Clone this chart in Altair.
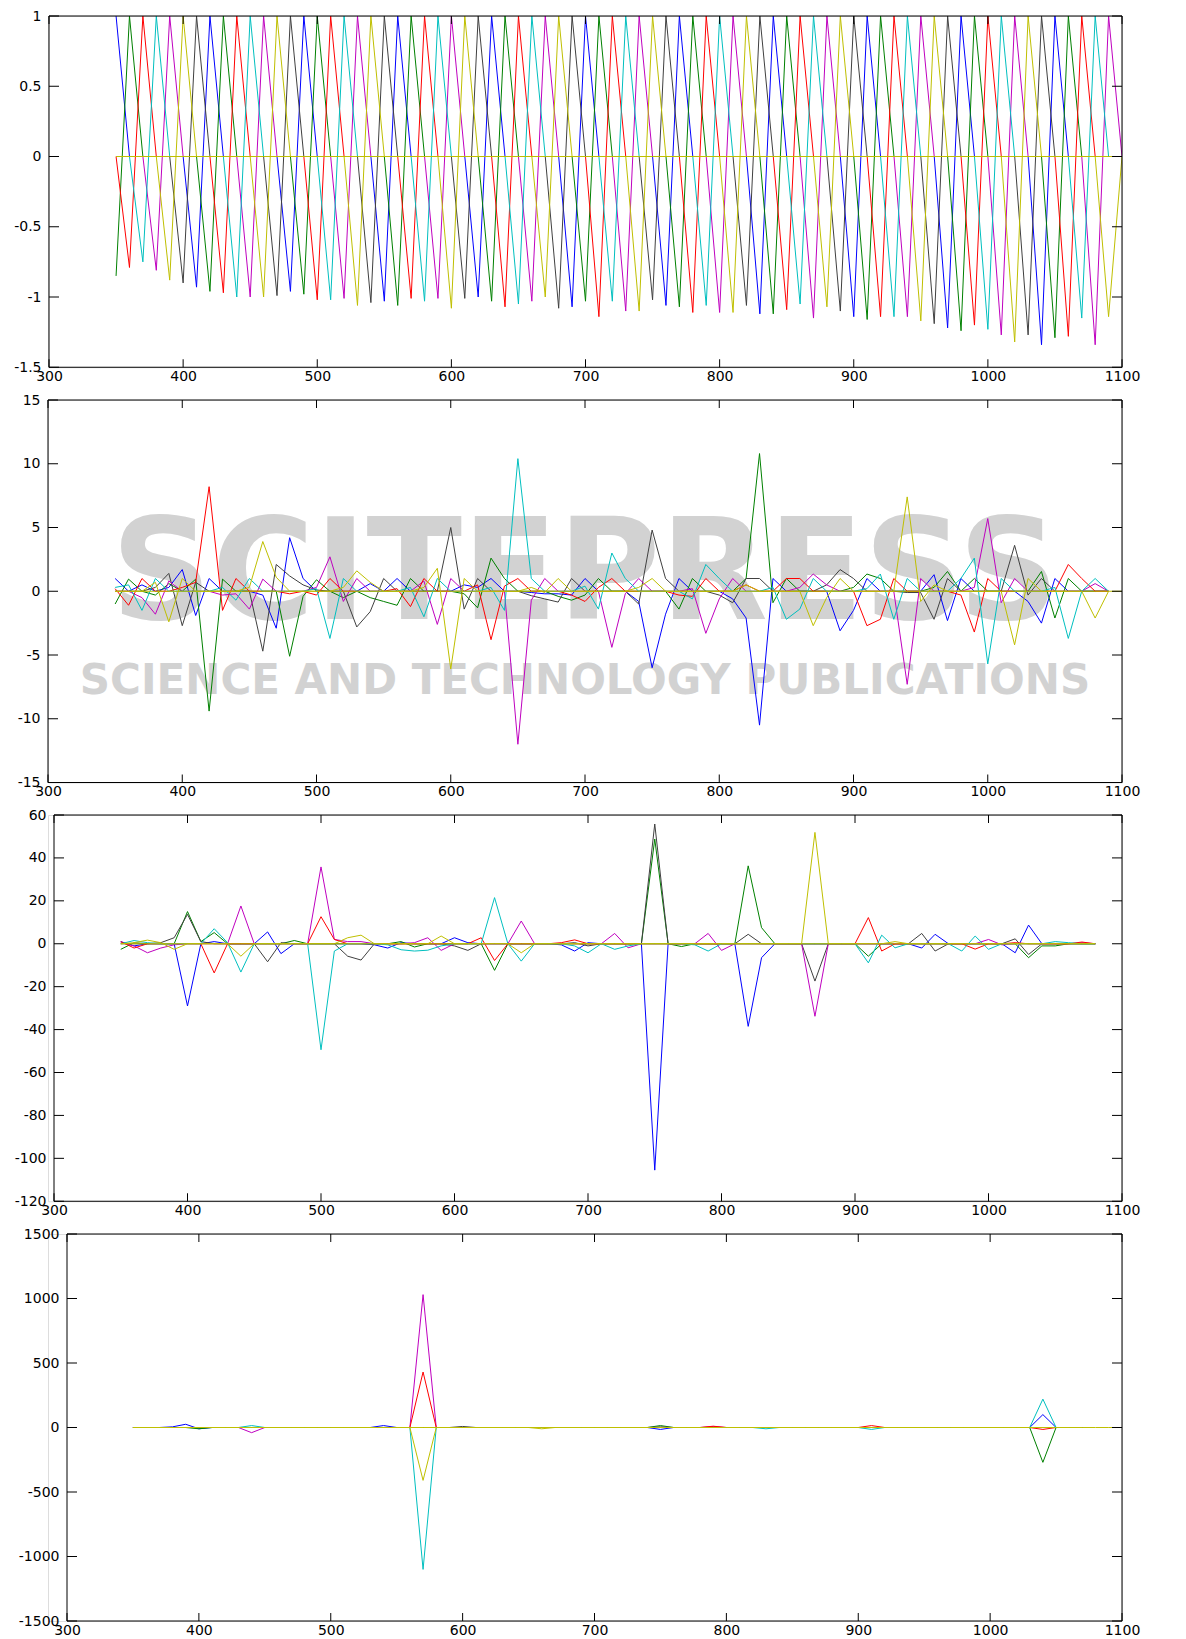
import altair as alt
import pandas as pd

FONT = "DejaVu Sans"

# ---------------- shared axis values ----------------
X_TICKS = [300, 400, 500, 600, 700, 800, 900, 1000, 1100]
X_DOMAIN = [300, 1100]
GRID_START = 350
GRID_STEP = 10

# MATLAB colour cycle names and colours
COLOR_NAMES = ["b", "g", "r", "c", "m", "y", "k"]
COLOR_HEX = {"b": "#0000FF", "g": "#008000", "r": "#FF0000", "c": "#00BFBF",
             "m": "#BF00BF", "y": "#BFBF00", "k": "#404040"}
DRAW_ORDER = ["b", "g", "k", "m", "r", "c", "y"]

# ---------------- panel 1 ----------------
P1_Y_DOMAIN = [-1.5, 1]
P1_Y_TICKS = [-1.5, -1, -0.5, 0, 0.5, 1]
# minimum of each V, at x = 350, 360, ..., 1090
P1_MIN = [-0.85, -0.79, -0.75, -0.81, -0.88, -0.90, -0.93, -0.96, -0.97, -1.00,
          -1.00, -1.00, -0.99, -0.96, -0.98, -1.02, -1.02, -1.01, -1.06, -1.04,
          -1.03, -1.06, -1.01, -1.03, -1.01, -1.08, -1.01, -1.00, -1.03, -1.07,
          -1.05, -1.03, -1.00, -1.08, -1.07, -1.03, -1.14, -1.03, -1.10, -1.10,
          -1.02, -1.06, -1.07, -1.11, -1.06, -1.11, -1.11, -1.06, -1.12, -1.12,
          -1.09, -1.05, -1.15, -1.07, -1.10, -1.14, -1.16, -1.14, -1.14, -1.14,
          -1.17, -1.19, -1.22, -1.24, -1.20, -1.23, -1.27, -1.32, -1.27, -1.34,
          -1.29, -1.28, -1.15, -1.34, -1.14]
# peak of each V, at x = 350, 360, ..., 1100
P1_PEAK = [1.0] * 75 + [0.0]
P1_END = 1100

# ---------------- panel 2 ----------------
P2_Y_DOMAIN = [-15, 15]
P2_Y_TICKS = [-15, -10, -5, 0, 5, 10, 15]
P2 = {
    "b": {350: 1.0, 370: 0.5, 390: 0.3, 400: 1.7, 410: -1.9, 420: 1.0, 460: -0.3, 470: -2.9,
          480: 4.2, 490: 1.0, 540: 0.6, 560: 1.0, 610: 0.5, 620: 0.3, 630: 1.0, 660: -0.1,
          670: -0.2, 680: -0.2, 690: -0.3, 700: 1.0, 740: -0.8, 750: -6.0, 760: -1.8, 770: 1.0,
          810: -0.6, 820: -2.1, 830: -10.5, 840: 1.0, 890: -3.1, 900: -1.5, 910: 1.0, 960: 1.3,
          970: -2.3, 980: 1.0, 1030: -0.8, 1040: -2.5, 1050: 1.0},
    "g": {350: -1.0, 360: 0.95, 380: -0.3, 390: 0.6, 410: 0.95, 420: -9.4, 430: 0.95, 480: -5.1,
          490: -0.4, 500: 0.9, 520: -0.5, 540: -0.5, 550: -0.8, 560: -1.1, 570: 1.0, 610: -0.2,
          620: -1.3, 630: 2.6, 640: 1.0, 680: -0.4, 690: -0.7, 700: -0.3, 710: 1.0, 770: -1.4,
          780: 1.0, 820: 1.0, 830: 10.8, 840: -0.9, 850: 1.0, 900: 0.3, 910: 1.35, 920: 1.0,
          960: 0.3, 970: 1.55, 990: 1.0, 1040: 1.55, 1050: -2.1, 1060: 1.0},
    "r": {350: 0.2, 360: -1.1, 370: 1.0, 400: 0.3, 410: 0.7, 420: 8.2, 430: -1.5, 440: 1.0,
          480: -0.2, 500: -0.3, 510: 1.0, 560: 0.2, 570: -1.2, 580: 1.0, 620: 0.5, 630: -3.8,
          640: 0.4, 650: 1.0, 690: -0.3, 700: -0.8, 710: 0.3, 720: 1.0, 770: -0.3, 780: -0.4,
          790: 1.0, 820: 0.5, 850: 1.0, 860: 1.0, 910: -2.7, 920: -2.2, 930: 1.0, 980: -0.3,
          990: -3.2, 1000: 1.0, 1060: 2.1, 1070: 1.0},
    "c": {350: 0.3, 360: 0.5, 370: -1.5, 380: 1.0, 430: 0.3, 440: -0.7, 450: 1.0, 500: 0.2,
          510: -3.7, 520: 1.0, 570: 0.3, 580: -2.0, 590: 1.0, 630: 0.3, 640: -1.5, 650: 10.4,
          660: 1.0, 700: 0.4, 710: -1.4, 720: 3.0, 730: 1.0, 780: -0.6, 790: 2.1, 800: 1.0,
          840: 0.3, 850: -2.2, 860: -1.4, 870: 1.0, 910: 0.2, 920: 1.35, 930: -2.2, 940: 1.0,
          980: 1.0, 990: 2.6, 1000: -5.7, 1010: 1.0, 1050: 0.3, 1060: -3.7, 1080: 1.0},
    "m": {370: -0.5, 380: -1.8, 390: 0.8, 430: -0.3, 440: -0.2, 450: -1.4, 460: 0.95, 500: 0.3,
          510: 2.7, 520: -0.8, 530: 1.0, 580: 0.8, 590: -2.6, 600: 1.0, 650: -12.0, 660: -0.7,
          670: 1.0, 720: -4.4, 730: -0.2, 740: 1.0, 780: 0.2, 790: -3.3, 800: -0.6, 810: 1.0,
          860: 0.3, 870: 1.35, 880: 0.5, 940: -7.3, 950: 1.0, 990: 0.3, 1000: 5.7, 1010: -0.9,
          1020: 1.0, 1080: 0.6},
    "y": {380: 0.7, 390: -2.4, 400: 1.0, 450: 0.3, 460: 3.9, 470: 1.1, 520: 0.3, 530: 1.6,
          540: 0.7, 580: 0.3, 590: 1.8, 600: -6.1, 610: 1.0, 660: 0.3, 670: -0.1, 680: 1.0,
          740: 0.3, 750: 1.0, 820: 0.5, 870: -2.7, 880: -0.5, 890: 1.0, 940: 7.4, 950: -0.8,
          960: 0.5, 1020: -4.2, 1030: 1.0},
    "k": {380: 0.3, 390: 1.4, 400: -2.7, 410: 0.7, 460: -4.7, 470: 2.1, 480: 1.2, 490: 0.5,
          500: 0.1, 530: -2.8, 540: -1.6, 550: 1.0, 600: 5.0, 610: -1.4, 620: 1.0, 660: -0.35,
          670: -0.6, 680: -0.85, 690: 1.0, 740: -1.0, 750: 4.8, 760: 1.0, 800: -0.3, 810: -0.9,
          820: 1.0, 830: 1.0, 880: 0.5, 890: 1.7, 900: 1.0, 940: -0.1, 950: -0.1, 960: -2.2,
          970: 1.0, 1020: 3.6, 1030: -0.3, 1040: 1.0},
}
P2_END = {"b": 1090, "g": 1090, "r": 1090, "c": 1090, "m": 1090, "y": 1090, "k": 1090}
# last (yellow) series, drawn on top: zero except near its end
P2_LAST = {1080: -2.1}
P2_LAST_END = 1100

# ---------------- panel 3 ----------------
P3_Y_DOMAIN = [-120, 60]
P3_Y_TICKS = [-120, -100, -80, -60, -40, -20, 0, 20, 40, 60]
P3 = {
    "b": {350: 1.0, 360: -1.0, 400: -29, 420: 1.0, 460: 5.5, 470: -4.6, 540: -0.5, 550: -2.0,
          560: 0.5, 600: 2.8, 610: 0.5, 680: -0.5, 690: -3.4, 700: 0.5, 750: -105.5,
          820: -38.5, 830: -6.5, 950: -2.0, 960: 4.4, 1020: -4.2, 1030: 8.7},
    "g": {350: -2.6, 360: 0.5, 400: 15, 410: 1.0, 420: 5.2, 480: 1.5, 560: 1.0, 570: -1.5,
          630: -12.4, 750: 48.8, 770: -1.3, 820: 36.3, 830: 7.5, 910: -5.8, 1030: -6.5,
          1040: -1.0, 1050: -1.0},
    "r": {350: 1.0, 360: -2.0, 420: -13.6, 500: 12.6, 510: 2.0, 620: 2.8, 630: -7.8, 680: 0.5,
          690: 1.8, 910: 12.2, 920: -3.4, 990: -2.5, 1020: 0.5, 1070: 0.8},
    "c": {360: 1.5, 370: 0.5, 420: 7.0, 430: 0.5, 440: -13.2, 500: -49.4, 510: -3.4, 550: -0.5,
          560: -2.8, 570: -3.4, 580: -3.0, 590: -1.0, 630: 21.5, 650: -8.1, 690: -1.0,
          700: -4.2, 720: -2.6, 730: -1.0, 780: -0.5, 790: -3.4, 910: -8.9, 920: 4.0,
          930: -1.9, 980: -3.4, 990: 3.6, 1000: -2.6, 1050: 1.0, 1060: 0.5},
    "m": {350: 0.5, 360: -1.0, 370: -4.2, 380: -2.0, 390: -0.5, 440: 17.6, 500: 35.8, 510: 2.0,
          520: 1.0, 530: 1.0, 570: 0.5, 580: 2.8, 590: -3.1, 650: 10.6, 720: 4.8, 730: -1.9,
          790: 4.8, 800: -3.1, 870: -33.8, 1000: 2.0, 1010: -0.5, 1070: 0.5},
    "y": {360: 0.5, 370: 1.7, 380: 0.5, 390: -2.6, 440: -5.8, 520: 2.8, 530: 4.0, 590: 3.6,
          650: -4.2, 870: 51.9, 930: 1.0},
    "k": {380: 0.5, 390: 2.8, 400: 13.7, 410: 1.0, 460: -8.4, 470: 0.5, 520: -5.8, 530: -7.6,
          600: -1.0, 610: -3.1, 690: 0.5, 700: -1.0, 750: 55.8, 820: 4.4, 870: -17.4,
          950: 4.8, 960: -3.4, 1020: 2.3, 1030: -5.0},
}
P3_END = {c: 1080 for c in COLOR_NAMES}
P3_LAST = {}
P3_LAST_END = 1080

# ---------------- panel 4 ----------------
P4_Y_DOMAIN = [-1500, 1500]
P4_Y_TICKS = [-1500, -1000, -500, 0, 500, 1000, 1500]
P4 = {
    "b": {380: 5, 390: 25, 400: -10, 540: 15, 750: -15, 1040: 100},
    "g": {400: -10, 750: 15, 1040: -270},
    "r": {570: 430, 790: 10, 910: 15, 1040: -15},
    "c": {440: 15, 570: -1100, 830: -10, 910: -15, 1040: 220},
    "m": {440: -40, 570: 1030, 790: 8},
    "y": {570: -410, 660: -10},
    "k": {600: 8, 750: 5},
}
P4_END = {c: 1070 for c in COLOR_NAMES}
P4_LAST = {}
P4_LAST_END = 1100

WATERMARK_BIG = "SCITEPRESS"
WATERMARK_SMALL = "SCIENCE AND TECHNOLOGY PUBLICATIONS"

# common plot-area width; each panel's frame starts a few px further right
VIEW_W = 1074
Y_EXTENT = 34


def grid(end):
    return list(range(GRID_START, end + 1, GRID_STEP))


def frame_panel1():
    """Series k (k = 0..74) has its minimum at 340+10k and its peak at 350+10k;
    same-colour series are merged into one line (they never overlap).
    The last series (k = 75) is returned separately so it is drawn on top."""
    out = {}
    xs = grid(P1_END)
    n_last = len(xs) - 1
    for c in COLOR_NAMES:
        j = COLOR_NAMES.index(c)
        ys = []
        for i in range(len(xs)):
            v = 0.0
            if i % 7 == j and i < n_last:
                v = P1_PEAK[i]
            elif (i + 1) % 7 == j and i < n_last - 1:
                v = P1_MIN[i]
            ys.append(v)
        out[c] = pd.DataFrame({"x": xs, "y": ys})
    last = [0.0] * len(xs)
    last[n_last - 1] = P1_MIN[n_last - 1]
    last[n_last] = P1_PEAK[n_last]
    return out, pd.DataFrame({"x": xs, "y": last})


def frame_sparse(sparse, ends, last, last_end):
    out = {}
    for c in COLOR_NAMES:
        xs = grid(ends[c])
        out[c] = pd.DataFrame({"x": xs, "y": [float(sparse[c].get(x, 0.0)) for x in xs]})
    xs = grid(last_end)
    return out, pd.DataFrame({"x": xs, "y": [float(last.get(x, 0.0)) for x in xs]})


def panel(data, ydom, yticks, shift, h, xext, watermark=False):
    frames, last = data
    w = VIEW_W
    xs = alt.Scale(domain=X_DOMAIN, range=[shift, w], nice=False, zero=False)
    ys = alt.Scale(domain=ydom, nice=False, zero=False)
    xaxis = alt.Axis(values=X_TICKS, ticks=False, domain=False, grid=False, title=None,
                     labelPadding=2, labelFontSize=14, labelFont=FONT, labelColor="black",
                     labelFlush=False, labelOverlap=False, labelBound=False,
                     labelExpr="'' + datum.value", minExtent=xext, maxExtent=xext)
    yaxis = alt.Axis(values=yticks, ticks=False, domain=False, grid=False, title=None,
                     labelPadding=8, labelFontSize=14, labelFont=FONT, labelColor="black",
                     labelFlush=False, labelOverlap=False, labelBound=False, offset=-shift,
                     labelExpr="'' + datum.value", minExtent=Y_EXTENT, maxExtent=Y_EXTENT)
    X = lambda f: alt.X(f, scale=xs, axis=xaxis)
    Y = lambda f: alt.Y(f, scale=ys, axis=yaxis)

    layers = []
    if watermark:
        wm = pd.DataFrame({"t": [WATERMARK_BIG]})
        layers.append(alt.Chart(wm).mark_text(
            font=FONT, fontSize=140, fontWeight="bold", color="#d2d2d2",
            align="center", baseline="alphabetic", clip=True
        ).encode(text="t:N", x=alt.value((shift + w) / 2), y=alt.value(219)))
        wm2 = pd.DataFrame({"t": [WATERMARK_SMALL]})
        layers.append(alt.Chart(wm2).mark_text(
            font=FONT, fontSize=42, fontWeight="bold", color="#d2d2d2",
            align="center", baseline="alphabetic", clip=True
        ).encode(text="t:N", x=alt.value((shift + w) / 2), y=alt.value(294)))

    for c in DRAW_ORDER:
        layers.append(alt.Chart(frames[c]).mark_line(
            strokeWidth=1, clip=True, color=COLOR_HEX[c]
        ).encode(x=X("x:Q"), y=Y("y:Q")))
    layers.append(alt.Chart(last).mark_line(
        strokeWidth=1, clip=True, color=COLOR_HEX["y"]
    ).encode(x=X("x:Q"), y=Y("y:Q")))

    xt = pd.DataFrame({"v": X_TICKS})
    yt = pd.DataFrame({"v": yticks})
    xe = pd.DataFrame({"v": X_DOMAIN})
    ye = pd.DataFrame({"v": ydom})
    rule = dict(color="black", strokeWidth=1)
    # frame
    layers.append(alt.Chart(xe).mark_rule(**rule).encode(
        x=X("v:Q"), y=alt.value(0), y2=alt.value(h)))
    layers.append(alt.Chart(ye).mark_rule(**rule).encode(
        y=Y("v:Q"), x=alt.value(shift), x2=alt.value(w)))
    # inward ticks on all four sides
    layers.append(alt.Chart(xt).mark_rule(**rule).encode(
        x=X("v:Q"), y=alt.value(h), y2=alt.value(h - 8)))
    layers.append(alt.Chart(xt).mark_rule(**rule).encode(
        x=X("v:Q"), y=alt.value(0), y2=alt.value(8)))
    layers.append(alt.Chart(yt).mark_rule(**rule).encode(
        y=Y("v:Q"), x=alt.value(shift), x2=alt.value(shift + 10)))
    layers.append(alt.Chart(yt).mark_rule(**rule).encode(
        y=Y("v:Q"), x=alt.value(w), x2=alt.value(w - 10)))
    return alt.layer(*layers).properties(width=w, height=h)


p1 = panel(frame_panel1(), P1_Y_DOMAIN, P1_Y_TICKS, 1, 351.25, 17)
p2 = panel(frame_sparse(P2, P2_END, P2_LAST, P2_LAST_END), P2_Y_DOMAIN, P2_Y_TICKS,
           0, 382.5, 17, watermark=True)
p3 = panel(frame_sparse(P3, P3_END, P3_LAST, P3_LAST_END), P3_Y_DOMAIN, P3_Y_TICKS,
           6, 386.25, 17)
p4 = panel(frame_sparse(P4, P4_END, P4_LAST, P4_LAST_END), P4_Y_DOMAIN, P4_Y_TICKS,
           19, 387, 10)

chart = alt.vconcat(p1, p2, p3, p4, spacing=7).properties(
    padding={"left": 5, "top": 0, "right": 5, "bottom": 0}
).configure_view(stroke=None).configure(background="white")

chart.save("out.html", embed_options={"renderer": "svg", "actions": False})
